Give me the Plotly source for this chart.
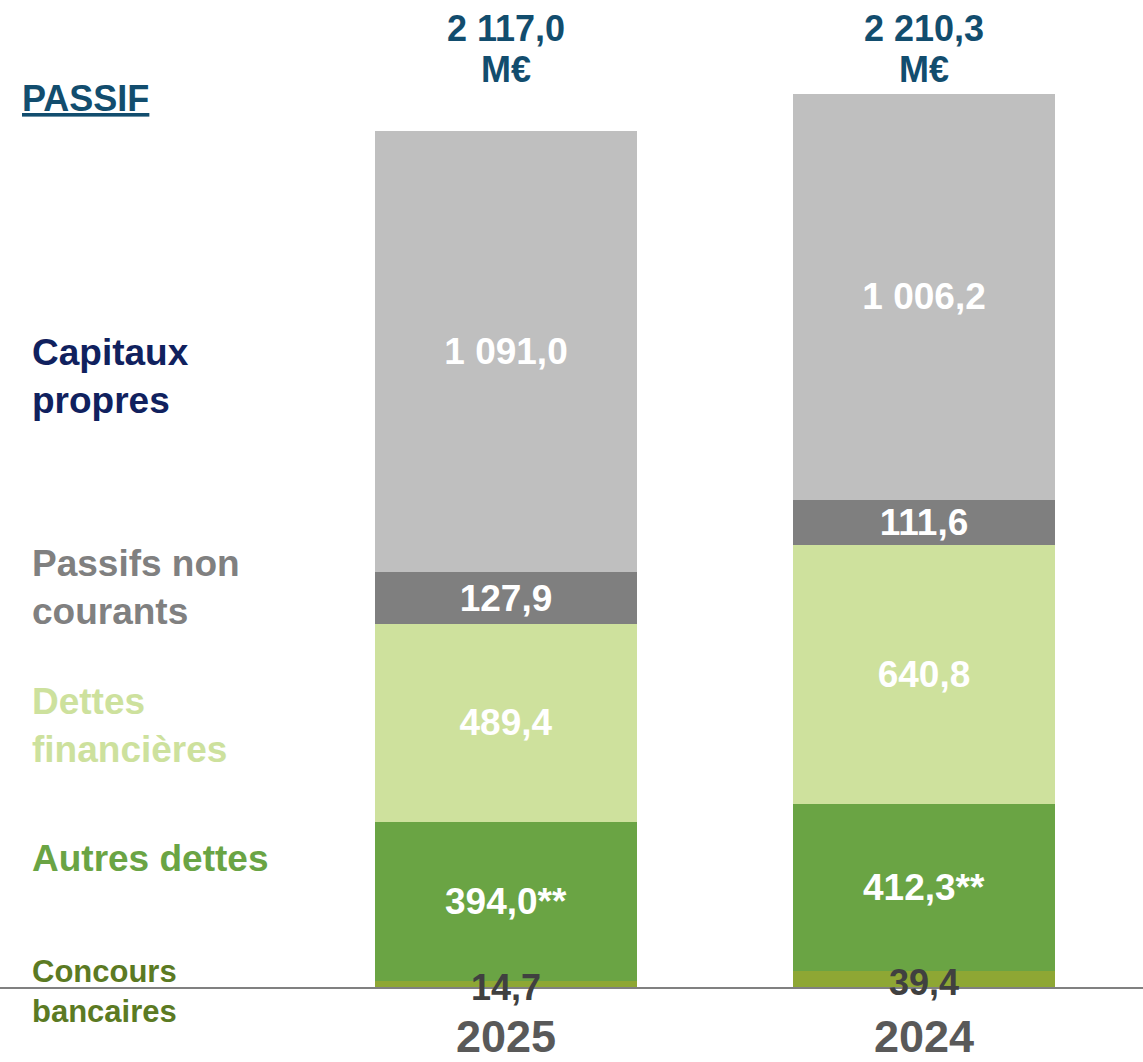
import plotly.graph_objects as go

# data
years = ["2025", "2024"]
concours_bancaires = [14.7, 39.4]
autres_dettes = [394.0, 412.3]
dettes_financieres = [489.4, 640.8]
passifs_non_courants = [127.9, 111.6]
capitaux_propres = [1091.0, 1006.2]


def fr(v, suffix=""):
    """French number format: 1 091,0"""
    s = f"{v:,.1f}".replace(",", " ").replace(".", ",")
    return s + suffix


FONT = "Liberation Sans, Arial, sans-serif"

segments = [
    ("Concours bancaires", concours_bancaires, "#8ea734", ""),
    ("Autres dettes", autres_dettes, "#6aa444", "**"),
    ("Dettes financières", dettes_financieres, "#cee19d", ""),
    ("Passifs non courants", passifs_non_courants, "#7f7f7f", ""),
    ("Capitaux propres", capitaux_propres, "#bfbfbf", ""),
]

fig = go.Figure()

for name, vals, color, suffix in segments:
    show_text = name != "Concours bancaires"
    fig.add_trace(go.Bar(
        x=years, y=vals, name=name,
        marker=dict(color=color, line_width=0),
        width=0.627,
        text=[fr(v, suffix) for v in vals] if show_text else None,
        textposition="inside" if show_text else "none",
        insidetextanchor="middle",
        textangle=0,
        constraintext="none",
        textfont=dict(family=FONT, size=37, color="white", weight="bold"),
    ))

totals = [sum(s[1][i] for s in segments) for i in range(len(years))]

annotations = []
for i, yr in enumerate(years):
    # two lines drawn separately to keep the tight line spacing
    for txt, py in [(fr(totals[i]), 29), ("M€", 70)]:
        annotations.append(dict(
            x=i, xref="x", y=(987 - py) / 987, yref="paper",
            text=f"<b>{txt}</b>", showarrow=False,
            font=dict(family=FONT, size=36, color="#124d6e"),
            xanchor="center", yanchor="middle",
        ))
    # small concours bancaires value, sitting over its thin segment
    annotations.append(dict(
        x=i, xref="x", y=concours_bancaires[i] / 2, yref="y",
        text=f"<b>{fr(concours_bancaires[i])}</b>", showarrow=False,
        font=dict(family=FONT, size=36, color="#404040"),
        xanchor="center", yanchor="middle", yshift=-3,
    ))

# left side labels
left_labels = [
    ("<b><u>PASSIF</u></b>", 99, "#124d6e", 36, 20),
    ("<b>Capitaux<br>propres</b>", 376, "#10215e", 37, 30),
    ("<b>Passifs non<br>courants</b>", 587, "#808080", 37, 30),
    ("<b>Dettes<br>financières</b>", 725, "#cde19d", 37, 30),
    ("<b>Autres dettes</b>", 858, "#6aa444", 37, 30),
    ("<b>Concours<br>bancaires</b>", 991, "#5b7a23", 31, 30),
]
for txt, py, col, size, px in left_labels:
    annotations.append(dict(
        x=px / 1143, xref="paper", y=(987 - py) / 987, yref="paper",
        text=txt, showarrow=False, align="left",
        xanchor="left", yanchor="middle",
        font=dict(family=FONT, size=size, color=col),
    ))

fig.update_layout(
    barmode="stack",
    width=1143, height=1062,
    margin=dict(l=0, r=0, t=0, b=75, autoexpand=False),
    paper_bgcolor="white", plot_bgcolor="white",
    showlegend=False,
    annotations=annotations,
    xaxis=dict(
        type="category", range=[-1.2105, 1.5239], automargin=False,
        showline=True, linecolor="#808080", linewidth=1.5,
        showgrid=False, zeroline=False, ticks="",
        tickfont=dict(family=FONT, size=45, color="#595959", weight="bold"),
        ticklabelstandoff=9,
    ),
    yaxis=dict(
        range=[0, 2442], visible=False, showgrid=False, zeroline=False,
        automargin=False,
    ),
)

fig.write_html("out.html", config={"displayModeBar": False},
               post_script="document.body.style.margin='0';")
